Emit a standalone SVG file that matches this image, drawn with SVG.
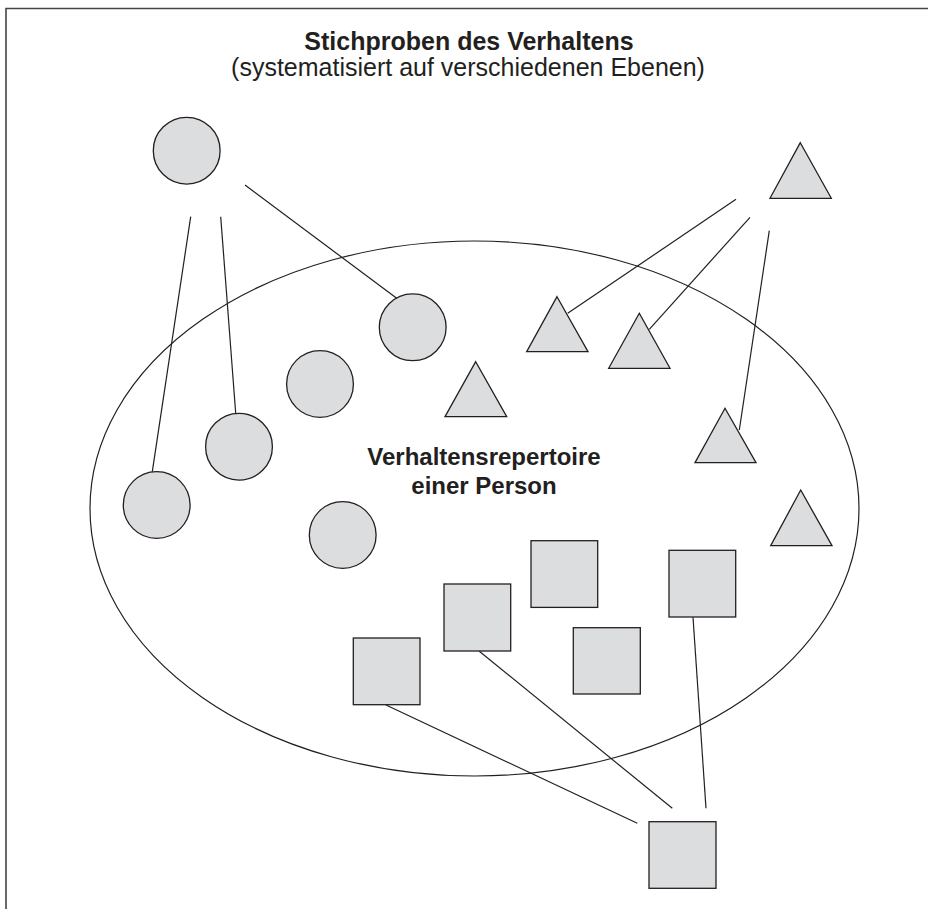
<svg xmlns="http://www.w3.org/2000/svg" width="928" height="909" viewBox="0 0 928 909">
<style>
.sh{fill:#dcdddf;stroke:#231f20;stroke-width:1.3}
.ln{stroke:#231f20;stroke-width:1.2;fill:none}
.t{font-family:"Liberation Sans",Arial,sans-serif;fill:#231f20;text-anchor:middle}
.b{font-weight:bold}
</style>
<rect width="928" height="909" fill="#ffffff"/>
<path d="M6,909 V8.5 H928" fill="none" stroke="#444" stroke-width="1.6"/>
<g id="title">
<text class="t b" x="469" y="50" font-size="25">Stichproben des Verhaltens</text>
<text class="t" x="468" y="76" font-size="25">(systematisiert auf verschiedenen Ebenen)</text>
</g>
<g id="repertoire">
<ellipse cx="474.5" cy="508.5" rx="384.5" ry="267.5" class="ln"/>
<text class="t b" x="484" y="465" font-size="24">Verhaltensrepertoire</text>
<text class="t b" x="484" y="494" font-size="24">einer Person</text>
</g>
<g id="connectors">
<line class="ln" x1="190.7" y1="216.7" x2="152.3" y2="471.7"/>
<line class="ln" x1="220.7" y1="216.7" x2="235.7" y2="413.3"/>
<line class="ln" x1="245" y1="185" x2="396.7" y2="298.3"/>
<line class="ln" x1="736" y1="199.3" x2="567.7" y2="313.3"/>
<line class="ln" x1="750" y1="217.3" x2="649.3" y2="329.3"/>
<line class="ln" x1="769.3" y1="230.7" x2="739.3" y2="430"/>
<line class="ln" x1="386" y1="705" x2="637.3" y2="823.3"/>
<line class="ln" x1="479" y1="651" x2="672.3" y2="808.3"/>
<line class="ln" x1="693" y1="617.3" x2="706" y2="808.3"/>
</g>
<g id="circle-sample"><circle class="sh" cx="186.7" cy="150.7" r="33.4"/></g>
<g id="circle-1"><circle class="sh" cx="412.7" cy="327.3" r="33.4"/></g>
<g id="circle-2"><circle class="sh" cx="320" cy="384" r="33.4"/></g>
<g id="circle-3"><circle class="sh" cx="239" cy="446.7" r="33.4"/></g>
<g id="circle-4"><circle class="sh" cx="156.7" cy="505" r="33.4"/></g>
<g id="circle-5"><circle class="sh" cx="342.7" cy="535" r="33.4"/></g>
<g id="triangle-sample"><polygon class="sh" points="800.3,142.7 831.3,198.3 770,198.3"/></g>
<g id="triangle-1"><polygon class="sh" points="557,296.7 588,351.7 526.7,351.7"/></g>
<g id="triangle-2"><polygon class="sh" points="639.3,313.3 670,368.3 608.7,368.3"/></g>
<g id="triangle-3"><polygon class="sh" points="475.7,361.7 506.7,416.7 445,416.7"/></g>
<g id="triangle-4"><polygon class="sh" points="725,408.3 756,462.7 695,462.7"/></g>
<g id="triangle-5"><polygon class="sh" points="800.7,490 832,545.7 770.7,545.7"/></g>
<g id="square-1"><rect class="sh" x="353.3" y="638" width="66.7" height="66.7"/></g>
<g id="square-2"><rect class="sh" x="444" y="584" width="66.7" height="67"/></g>
<g id="square-3"><rect class="sh" x="531" y="540.7" width="66.7" height="66.7"/></g>
<g id="square-4"><rect class="sh" x="573.3" y="627.7" width="67" height="66.3"/></g>
<g id="square-5"><rect class="sh" x="669" y="550.3" width="66.7" height="66.7"/></g>
<g id="square-sample"><rect class="sh" x="649" y="821.7" width="67" height="66.6"/></g>
</svg>
